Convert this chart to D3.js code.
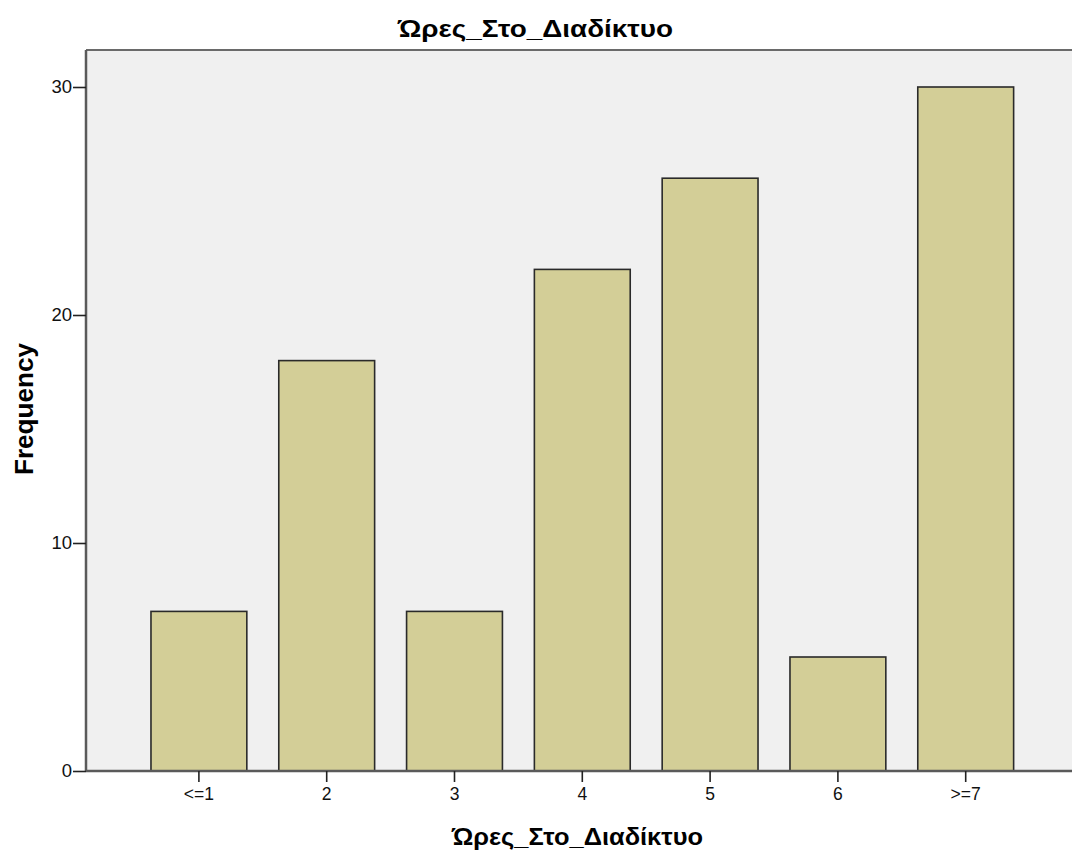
<!DOCTYPE html>
<html>
<head>
<meta charset="utf-8">
<script src="https://cdn.jsdelivr.net/npm/d3@7"></script>
<style>
html,body{margin:0;padding:0;background:#fff;overflow:hidden;}
svg{display:block;}
text{font-family:"Liberation Sans",Arial,sans-serif;}
</style>
</head>
<body>
<svg id="chart" width="1072" height="856"></svg>
<script>
const chartTitle = "Ώρες_Στο_Διαδίκτυο";
const xAxisTitle = "Ώρες_Στο_Διαδίκτυο";
const yAxisTitle = "Frequency";
const categories = ["<=1", "2", "3", "4", "5", "6", ">=7"];
const frequencies = [7, 18, 7, 22, 26, 5, 30];
const yTicks = [0, 10, 20, 30];

const svg = d3.select("#chart");
const plot = {left: 86, right: 1079, top: 50, bottom: 771};

const x = d3.scaleBand().domain(categories)
  .range([135, 135 + 127.8 * categories.length])
  .paddingInner(0.25).paddingOuter(0.125);
const y = d3.scaleLinear().domain([0, 30]).range([plot.bottom, 87]);

// background
svg.append("rect").attr("x", plot.left).attr("y", plot.top)
  .attr("width", plot.right - plot.left).attr("height", plot.bottom - plot.top)
  .attr("fill", "#f0f0f0");
// top frame line
svg.append("line").attr("x1", plot.left).attr("x2", plot.right)
  .attr("y1", plot.top).attr("y2", plot.top)
  .attr("stroke", "#6a6a6a").attr("stroke-width", 2);

// bars
svg.append("g").selectAll("rect").data(categories).join("rect")
  .attr("x", d => x(d))
  .attr("y", (d, i) => y(frequencies[i]))
  .attr("width", x.bandwidth())
  .attr("height", (d, i) => y(0) - y(frequencies[i]))
  .attr("fill", "#d3ce97")
  .attr("stroke", "#2a2a2a")
  .attr("stroke-width", 1.6);

// y axis
const yAxis = svg.append("g").attr("transform", `translate(${plot.left},0)`)
  .call(d3.axisLeft(y).tickValues(yTicks).tickFormat(d3.format("d")).tickSize(13).tickSizeOuter(0));
yAxis.select(".domain").attr("d", `M0,${plot.top}V${plot.bottom}`).attr("stroke", "#5a5a5a").attr("stroke-width", 2.5);
yAxis.selectAll(".tick line").attr("stroke", "#222").attr("stroke-width", 1.6);
yAxis.selectAll(".tick text").attr("font-size", 18.5).attr("fill", "#111").attr("x", -14)
  .attr("font-family", "Liberation Sans, Arial, sans-serif");

// x axis
const xAxis = svg.append("g").attr("transform", `translate(0,${plot.bottom})`)
  .call(d3.axisBottom(x).tickSize(11).tickSizeOuter(0).tickPadding(6));
xAxis.select(".domain").attr("d", `M${plot.left},0H${plot.right}`).attr("stroke", "#5a5a5a").attr("stroke-width", 2.5);
xAxis.selectAll(".tick line").attr("stroke", "#222").attr("stroke-width", 1.6);
xAxis.selectAll(".tick text").attr("font-size", 17.5).attr("fill", "#111")
  .attr("font-family", "Liberation Sans, Arial, sans-serif");

// titles
svg.append("text").attr("x", 535.5).attr("y", 36.5).attr("text-anchor", "middle")
  .attr("font-family", "DejaVu Sans, sans-serif")
  .attr("font-size", 24).attr("font-weight", "bold")
  .attr("textLength", 275).attr("lengthAdjust", "spacingAndGlyphs").text(chartTitle);
svg.append("text").attr("x", 577.5).attr("y", 845).attr("text-anchor", "middle")
  .attr("font-family", "DejaVu Sans, sans-serif")
  .attr("font-size", 24).attr("font-weight", "bold")
  .attr("textLength", 251).attr("lengthAdjust", "spacingAndGlyphs").text(xAxisTitle);
svg.append("text").attr("transform", "translate(33,409) rotate(-90)").attr("text-anchor", "middle")
  .attr("font-family", "DejaVu Sans, sans-serif")
  .attr("font-size", 25).attr("font-weight", "bold")
  .attr("textLength", 132).attr("lengthAdjust", "spacingAndGlyphs").text(yAxisTitle);
</script>
</body>
</html>
